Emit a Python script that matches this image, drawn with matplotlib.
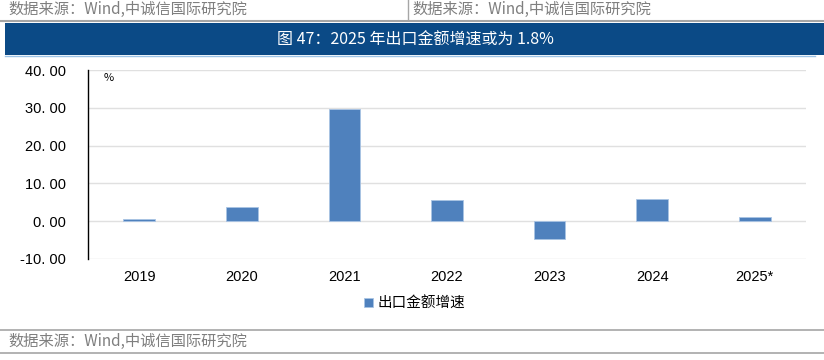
import matplotlib
matplotlib.use("Agg")
import matplotlib.pyplot as plt
from matplotlib.lines import Line2D
from matplotlib.patches import Rectangle

plt.rcParams['font.family'] = ['Noto Sans CJK SC', 'DejaVu Sans']

# 数据
years = ["2019", "2020", "2021", "2022", "2023", "2024", "2025*"]
growth = [0.5, 3.7, 29.8, 5.6, -4.6, 5.9, 1.0]
yticks = [-10, 0, 10, 20, 30, 40]

title = "图 47：2025 年出口金额增速或为 1.8%"
source = "数据来源：Wind,中诚信国际研究院"
series_name = "出口金额增速"

bar_color = "#4F81BD"
band_color = "#0B4A86"
gray_text = "#7F7F7F"

fig = plt.figure(figsize=(8.24, 3.6), dpi=100)

# 顶部来源 + 分隔线
fig.text(8 / 824, 1 - 9 / 360, source, fontsize=11, color=gray_text, va="center", ha="left")
fig.text(412 / 824, 1 - 9 / 360, source, fontsize=11, color=gray_text, va="center", ha="left")
fig.add_artist(Line2D([408 / 824, 408 / 824], [1, 1 - 20 / 360], color="#A6A6A6", lw=1))
fig.add_artist(Line2D([0, 1], [1 - 21 / 360, 1 - 21 / 360], color="#A6A6A6", lw=1.5))

# 标题带
fig.add_artist(Rectangle((5 / 824, 1 - 55 / 360), 819 / 824, 32 / 360,
                         transform=fig.transFigure, color=band_color, lw=0))
fig.add_artist(Line2D([5 / 824, 815 / 824], [1 - 56 / 360, 1 - 56 / 360], color="#9DC3E6", lw=1))
fig.text(415 / 824, 1 - 40 / 360, title, fontsize=11.5, color="white", ha="center", va="center")

# 主图
ax = fig.add_axes([88 / 824, 1 - 259 / 360, 718 / 824, 189 / 360])
x = range(len(years))
ax.bar(x, growth, width=0.31, color=bar_color, edgecolor="#A9C4E4", linewidth=0.6,
       zorder=3, label=series_name)
ax.set_xlim(-0.5, len(years) - 0.5)
ax.set_ylim(-10, 40)
ax.set_yticks(yticks)
ax.set_yticklabels([f"{v:.2f}".replace(".", ". ") for v in yticks],
                   family="Liberation Sans", fontsize=10.5)
ax.set_xticks(list(x))
ax.set_xticklabels(years, family="Liberation Sans", fontsize=10.5)
ax.tick_params(axis="both", length=0)
ax.tick_params(axis="y", pad=16)
ax.tick_params(axis="x", pad=8)
ax.grid(axis="y", color="#E0E0E0", lw=1, zorder=0)
for s in ["top", "right", "bottom"]:
    ax.spines[s].set_visible(False)
ax.spines["left"].set_color("black")
ax.spines["left"].set_linewidth(1)
ax.text(0.022, 0.985, "%", transform=ax.transAxes, fontsize=8, va="top", ha="left")

ax.legend(loc="upper center", bbox_to_anchor=(0.455, -0.13), frameon=False,
          fontsize=10.5, handlelength=0.6, handleheight=0.6, handletextpad=0.3)

# 底部来源
fig.add_artist(Line2D([0, 1], [1 - 330 / 360, 1 - 330 / 360], color="#A6A6A6", lw=1.2))
fig.text(8 / 824, 1 - 341 / 360, source, fontsize=11, color=gray_text, va="center", ha="left")
fig.add_artist(Line2D([0, 1], [1 - 353 / 360, 1 - 353 / 360], color="#A6A6A6", lw=1.2))

fig.savefig("out.png", dpi=100)
